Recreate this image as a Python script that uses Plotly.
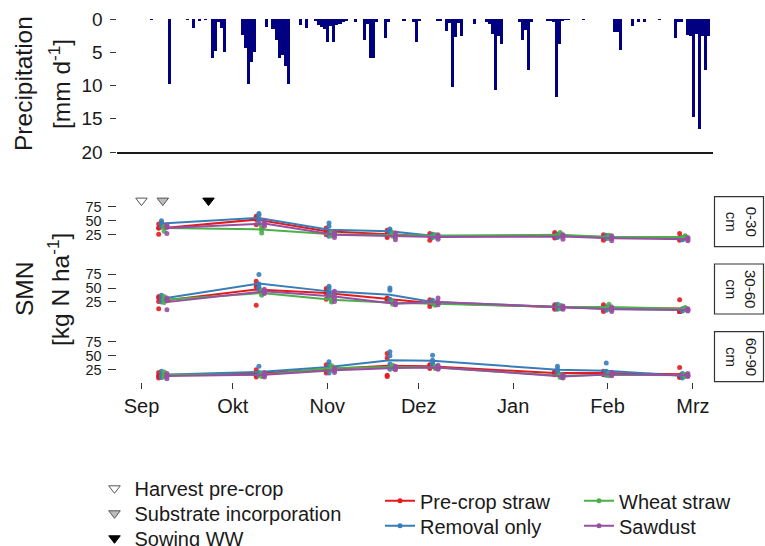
import pandas as pd
import plotly.graph_objects as go

W, H = 765, 546
START = pd.Timestamp("2018-09-01")

# ---------------- data ----------------
# daily precipitation: day offset from 1 Sep 2018, mm per day
precip_day = [3, 9, 15, 17, 19, 21, 23, 24, 25, 26, 27, 33, 34, 35, 36, 37, 41, 43, 44, 45,
              46, 47, 48, 52, 54, 57, 58, 59, 60, 61, 62, 63, 64, 65, 66, 67, 70, 73, 74, 75,
              76, 77, 80, 81, 86, 89, 90, 91, 97, 98, 100, 101, 102, 103, 104, 105, 109, 113,
              114, 115, 116, 117, 118, 124, 125, 126, 127, 128, 133, 134, 135, 136, 137, 138,
              139, 140, 145, 155, 156, 157, 161, 163, 165, 170, 175, 176, 177, 179, 180, 181,
              182, 183, 184, 185, 186]
precip_mm = [0.1, 9.7, 0.1, 1.4, 0.3, 0.1, 5.8, 4.8, 0.4, 1.3, 4.9, 2.4, 4.3, 9.7, 6.5, 5.0,
             1.2, 1.5, 3.1, 5.8, 5.4, 7.1, 9.7, 0.9, 1.4, 0.3, 0.9, 1.2, 1.5, 3.5, 1.0, 3.5,
             0.9, 0.7, 0.4, 0.2, 0.4, 3.1, 0.7, 5.8, 5.8, 0.5, 2.9, 0.4, 0.2, 0.4, 3.4, 0.3,
             0.3, 0.3, 1.8, 0.6, 10.2, 2.7, 0.6, 2.6, 0.8, 0.4, 0.7, 2.2, 10.7, 2.5, 3.7, 0.4,
             3.1, 1.6, 7.7, 0.5, 0.2, 0.2, 0.4, 11.7, 3.8, 0.2, 0.1, 0.1, 0.1, 1.9, 1.9, 4.6,
             1.1, 0.4, 0.4, 0.1, 2.9, 0.4, 0.4, 2.4, 2.5, 14.8, 2.2, 16.5, 2.5, 7.6, 2.6]

smn_dates = ["2018-09-08", "2018-10-10", "2018-11-02", "2018-11-22",
             "2018-12-06", "2019-01-16", "2019-02-01", "2019-02-26"]

treatments = ["Pre-crop straw", "Removal only", "Wheat straw", "Sawdust"]
colors = ["#E41A1C", "#377EB8", "#4DAF4A", "#984EA3"]
depths = ["0-30", "30-60", "60-90"]

# SMN replicates (kg N/ha), one list of replicates per sampling date
smn_0_30_precrop = [[44, 37, 37, 26], [58, 55, 52, 43], [37, 32, 30, 25], [33, 28, 23, 20],
                    [27, 24, 22, 15], [29, 26, 22, 19], [25, 21, 19, 15], [27, 20, 18, 15]]
smn_0_30_removal = [[50, 47, 44, 39], [63, 60, 52, 45], [46, 40, 28, 22], [35, 33, 30, 26],
                    [26, 24, 22, 20], [26, 24, 22, 20], [24, 22, 20, 18], [20, 19, 17, 16]]
smn_0_30_wheat = [[40, 38, 38, 31], [40, 36, 34, 28], [29, 27, 25, 23], [28, 26, 24, 22],
                  [25, 24, 22, 21], [29, 26, 23, 22], [24, 22, 20, 18], [23, 22, 20, 19]]
smn_0_30_sawdust = [[42, 40, 38, 27], [50, 46, 44, 40], [30, 26, 24, 20], [28, 23, 21, 16],
                    [25, 22, 20, 17], [25, 23, 22, 17], [23, 20, 18, 14], [20, 18, 16, 14]]

smn_30_60_precrop = [[35, 32, 26, 13], [62, 56, 52, 19], [49, 45, 40, 30], [32, 31, 29, 27],
                     [29, 24, 22, 17], [20, 17, 15, 12], [20, 16, 12, 8], [29, 10, 8, 7]]
smn_30_60_removal = [[37, 33, 29, 25], [74, 57, 52, 49], [53, 49, 40, 34], [50, 46, 30, 26],
                     [28, 26, 24, 22], [21, 16, 15, 12], [16, 14, 12, 10], [13, 12, 10, 9]]
smn_30_60_wheat = [[35, 30, 27, 24], [45, 42, 40, 37], [35, 30, 26, 25], [26, 24, 23, 21],
                   [25, 23, 21, 19], [19, 17, 15, 13], [21, 17, 14, 12], [15, 14, 12, 11]]
smn_30_60_sawdust = [[32, 29, 27, 11], [48, 45, 43, 40], [44, 38, 32, 26], [25, 22, 21, 20],
                     [32, 25, 23, 20], [18, 16, 14, 12], [16, 13, 11, 8], [13, 11, 10, 9]]

smn_60_90_precrop = [[20, 15, 13, 10], [25, 19, 16, 12], [34, 28, 23, 19], [54, 46, 15, 13],
                     [34, 33, 30, 27], [22, 20, 18, 16], [22, 20, 18, 16], [29, 15, 13, 11]]
smn_60_90_removal = [[22, 17, 14, 11], [31, 20, 18, 15], [39, 34, 28, 19], [57, 50, 35, 26],
                     [51, 42, 37, 34], [31, 26, 22, 21], [37, 22, 18, 15], [18, 15, 13, 10]]
smn_60_90_wheat = [[21, 16, 15, 12], [19, 17, 15, 13], [32, 29, 27, 24], [33, 31, 29, 27],
                   [31, 30, 28, 27], [17, 15, 13, 11], [18, 17, 15, 14], [17, 16, 14, 13]]
smn_60_90_sawdust = [[18, 14, 13, 9], [20, 17, 15, 12], [28, 25, 23, 20], [31, 29, 27, 25],
                     [33, 30, 27, 26], [16, 14, 12, 10], [20, 18, 16, 14], [18, 15, 14, 13]]

smn = {
    "0-30": [smn_0_30_precrop, smn_0_30_removal, smn_0_30_wheat, smn_0_30_sawdust],
    "30-60": [smn_30_60_precrop, smn_30_60_removal, smn_30_60_wheat, smn_30_60_sawdust],
    "60-90": [smn_60_90_precrop, smn_60_90_removal, smn_60_90_wheat, smn_60_90_sawdust],
}

event_names = ["Harvest pre-crop", "Substrate incorporation", "Sowing WW"]
event_dates = ["2018-09-01", "2018-09-08", "2018-09-23"]
event_level = [86, 86, 86]
event_fill = ["white", "#BDBDBD", "black"]
event_edge = ["#555555", "#555555", "black"]

month_ticks = ["2018-09-01", "2018-10-01", "2018-11-01", "2018-12-01",
               "2019-01-01", "2019-02-01", "2019-03-01"]
month_labels = ["Sep", "Okt", "Nov", "Dez", "Jan", "Feb", "Mrz"]

# ---------------- layout helpers ----------------
FONT = "Liberation Sans, Arial, sans-serif"
TXT = "#1a1a1a"


def px_x(p):
    return p / W


def px_y(p):
    return 1 - p / H


x_dom = [px_x(116.5), px_x(713)]
x_range = [(START - pd.Timedelta(days=8.2)).strftime("%Y-%m-%d %H:%M"),
           (START + pd.Timedelta(days=187.6)).strftime("%Y-%m-%d %H:%M")]
panel_px = [(196.7, 246.7), (264.0, 314.0), (331.7, 381.7)]
dodge_days = [-1.35, -0.45, 0.45, 1.35]

fig = go.Figure()

# precipitation bars
precip_dates = [START + pd.Timedelta(days=d) for d in precip_day]
fig.add_trace(go.Bar(x=precip_dates, y=precip_mm, width=86400000,
                     marker=dict(color="#000080", line=dict(width=0)),
                     xaxis="x", yaxis="y", showlegend=False))

# SMN panels
for i, dep in enumerate(depths):
    ax = str(i + 2)
    for j, tr in enumerate(treatments):
        reps = smn[dep][j]
        px, py = [], []
        lx, ly = [], []
        for k, dt in enumerate(smn_dates):
            t = pd.Timestamp(dt) + pd.Timedelta(days=dodge_days[j])
            for v in reps[k]:
                px.append(t)
                py.append(v)
            lx.append(t)
            ly.append(sum(reps[k]) / len(reps[k]))
        fig.add_trace(go.Scatter(x=px, y=py, mode="markers",
                                 marker=dict(color=colors[j], size=5, opacity=0.9),
                                 xaxis="x" + ax, yaxis="y" + ax, showlegend=False))
        fig.add_trace(go.Scatter(x=lx, y=ly, mode="lines",
                                 line=dict(color=colors[j], width=2),
                                 xaxis="x" + ax, yaxis="y" + ax, showlegend=False))

# legend-only entries for treatments
for j, tr in enumerate(treatments):
    fig.add_trace(go.Scatter(x=[None], y=[None], mode="lines+markers", name=tr,
                             line=dict(color=colors[j], width=2),
                             marker=dict(color=colors[j], size=5),
                             xaxis="x2", yaxis="y2", legend="legend" + str(4 + j)))

# management events
for e, name in enumerate(event_names):
    fig.add_trace(go.Scatter(x=[event_dates[e]], y=[event_level[e]], mode="markers", name=name,
                             marker=dict(symbol="triangle-down", size=10, color=event_fill[e],
                                         line=dict(color=event_edge[e], width=1)),
                             xaxis="x2", yaxis="y2",
                             legend="legend" if e == 0 else "legend" + str(e + 1)))

layout = dict(
    width=W, height=H, template="none",
    margin=dict(l=0, r=0, t=0, b=0, autoexpand=False),
    paper_bgcolor="white", plot_bgcolor="white",
    font=dict(family=FONT, color=TXT, size=16),
    bargap=0,
)

layout["xaxis"] = dict(domain=x_dom, range=x_range, type="date", anchor="y",
                       showticklabels=False, ticks="", showgrid=False, zeroline=False,
                       showline=True, linecolor="#1a1a1a", linewidth=1.6)
layout["yaxis"] = dict(domain=[px_y(152), px_y(19)], range=[20, 0], anchor="x",
                       tickvals=[0, 5, 10, 15, 20], ticks="outside", ticklen=6,
                       tickcolor="#333333", tickwidth=1, showgrid=False, zeroline=False,
                       showline=False, ticklabelstandoff=3,
                       tickfont=dict(size=19, color=TXT))

for i in range(3):
    ax = str(i + 2)
    top, bot = panel_px[i]
    xa = dict(domain=x_dom, range=x_range, type="date", anchor="y" + ax, matches="x",
              showgrid=False, zeroline=False, showline=False)
    if i == 2:
        xa.update(tickvals=month_ticks, ticktext=month_labels, ticks="outside", ticklen=6,
                  tickcolor="#333333", tickwidth=1, tickfont=dict(size=20, color=TXT))
    else:
        xa.update(showticklabels=False, ticks="")
    layout["xaxis" + ax] = xa
    layout["yaxis" + ax] = dict(domain=[px_y(bot), px_y(top)], range=[3.5, 93], anchor="x" + ax,
                                tickvals=[25, 50, 75], ticks="outside", ticklen=8,
                                tickcolor="#333333", tickwidth=1, showgrid=False,
                                zeroline=False, showline=False, ticklabelstandoff=3,
                                tickfont=dict(size=14.5, color=TXT))

# legends (one per entry for exact placement)
leg_pos = {
    "legend": (94.5, 488.3), "legend2": (94.5, 513.3), "legend3": (94.5, 538.3),
    "legend4": (380, 500.7), "legend5": (380, 525.7),
    "legend6": (579, 500.7), "legend7": (579, 525.7),
}
for key, (lx_, ly_) in leg_pos.items():
    layout[key] = dict(x=px_x(lx_), y=px_y(ly_), xanchor="left", yanchor="middle",
                       bgcolor="rgba(0,0,0,0)", borderwidth=0,
                       font=dict(size=20, color=TXT, family=FONT), itemwidth=30)

fig.update_layout(**layout)

# strip labels
shapes = []
annotations = []
for i, dep in enumerate(depths):
    top, bot = panel_px[i]
    shapes.append(dict(type="rect", xref="paper", yref="paper",
                       x0=px_x(714.5), x1=px_x(763.5), y0=px_y(bot), y1=px_y(top),
                       line=dict(color="#333333", width=1.2), fillcolor="white"))
    annotations.append(dict(xref="paper", yref="paper", x=px_x(741), y=px_y((top + bot) / 2),
                            text=dep + "<br>cm", textangle=90, showarrow=False,
                            font=dict(size=15, color=TXT), xanchor="center", yanchor="middle"))

# axis titles
annotations += [
    dict(xref="paper", yref="paper", x=px_x(23), y=px_y(84), text="Precipitation",
         textangle=-90, showarrow=False, font=dict(size=24.5, color=TXT),
         xanchor="center", yanchor="middle"),
    dict(xref="paper", yref="paper", x=px_x(59), y=px_y(84), text="[mm d<sup>-1</sup>]",
         textangle=-90, showarrow=False, font=dict(size=24.5, color=TXT),
         xanchor="center", yanchor="middle"),
    dict(xref="paper", yref="paper", x=px_x(24), y=px_y(289), text="SMN",
         textangle=-90, showarrow=False, font=dict(size=24.5, color=TXT),
         xanchor="center", yanchor="middle"),
    dict(xref="paper", yref="paper", x=px_x(58), y=px_y(289), text="[kg N ha<sup>-1</sup>]",
         textangle=-90, showarrow=False, font=dict(size=24.5, color=TXT),
         xanchor="center", yanchor="middle"),
]
fig.update_layout(shapes=shapes, annotations=annotations)

fig.write_html("out.html")
